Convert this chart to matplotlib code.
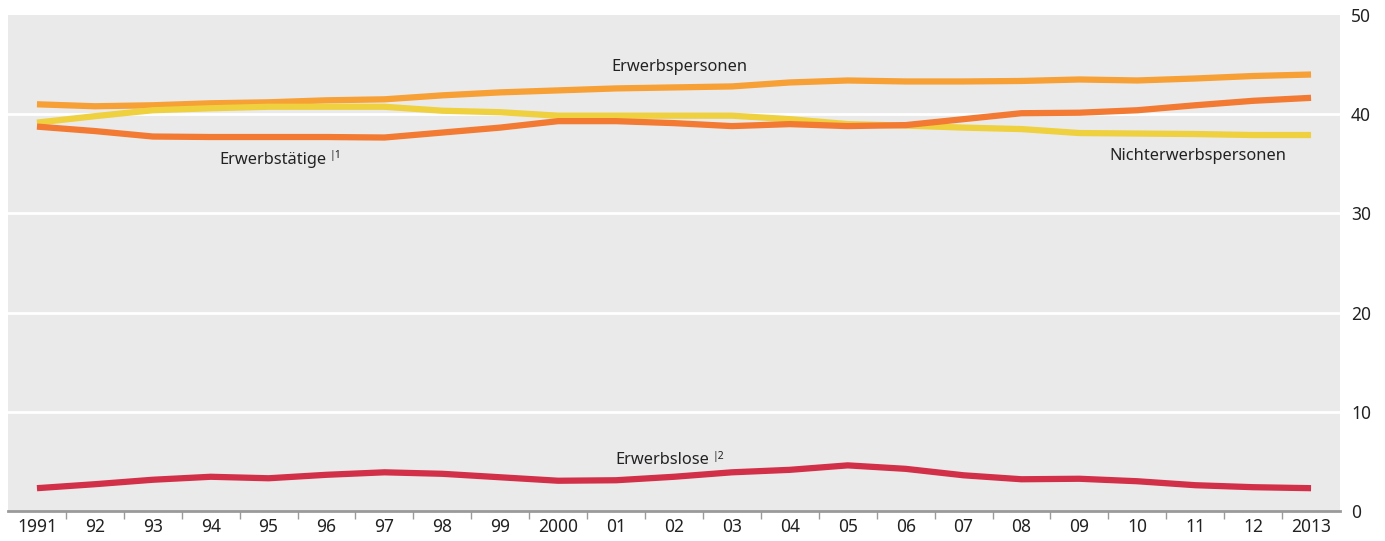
import matplotlib.pyplot as plt
import numpy as np

# Werte in Millionen
years = list(range(1991, 2014))
year_labels = ['1991', '92', '93', '94', '95', '96', '97', '98', '99', '2000',
               '01', '02', '03', '04', '05', '06', '07', '08', '09', '10',
               '11', '12', '2013']

erwerbspersonen = [41.0, 40.8, 40.9, 41.1, 41.2, 41.4, 41.5, 41.9, 42.2, 42.4,
                   42.6, 42.7, 42.8, 43.2, 43.4, 43.3, 43.3, 43.35, 43.5, 43.4,
                   43.6, 43.85, 44.0]
erwerbstaetige = [38.75, 38.3, 37.75, 37.7, 37.7, 37.7, 37.65, 38.15, 38.65, 39.3,
                  39.3, 39.1, 38.8, 39.0, 38.8, 38.9, 39.5, 40.1, 40.15, 40.4,
                  40.9, 41.35, 41.65]
nichterwerbspersonen = [39.15, 39.8, 40.4, 40.6, 40.75, 40.75, 40.75, 40.35, 40.2, 39.85,
                        39.85, 39.85, 39.85, 39.5, 39.0, 38.85, 38.65, 38.5, 38.1, 38.05,
                        38.0, 37.9, 37.9]
erwerbslose = [2.3, 2.7, 3.15, 3.45, 3.3, 3.65, 3.9, 3.75, 3.4, 3.05,
               3.1, 3.45, 3.9, 4.15, 4.6, 4.25, 3.6, 3.2, 3.25, 3.0,
               2.6, 2.4, 2.3]

plt.rcParams['font.family'] = ['Noto Sans', 'DejaVu Sans']

fig = plt.figure(figsize=(13.85, 5.41), dpi=100)
ax = fig.add_axes([8 / 1385, 30 / 541, 1332 / 1385, 496 / 541])
ax.set_facecolor('#eaeaea')

x = np.array(years)
ax.plot(x, erwerbspersonen, color='#f7a035', lw=4.5, solid_capstyle='butt', zorder=3)
ax.plot(x, nichterwerbspersonen, color='#efd03e', lw=4.5, solid_capstyle='butt', zorder=3)
ax.plot(x, erwerbstaetige, color='#f27a33', lw=4.5, solid_capstyle='butt', zorder=3)
ax.plot(x, erwerbslose, color='#d23048', lw=4.5, solid_capstyle='butt', zorder=3)

ax.set_xlim(1990.5, 2013.5)
ax.set_ylim(0, 50)

# y-Achse rechts, weisse Gitterlinien
ax.yaxis.tick_right()
ax.set_yticks([0, 10, 20, 30, 40, 50])
ax.tick_params(axis='y', length=0, pad=8, labelsize=12.5, labelcolor='#222222')
for v in [10, 20, 30, 40]:
    ax.axhline(v, color='white', lw=2, zorder=2)

# x-Achse: Beschriftung mittig, Striche dazwischen
ax.set_xticks(years)
ax.set_xticklabels(year_labels)
ax.set_xticks(np.arange(1991.5, 2013, 1), minor=True)
ax.tick_params(axis='x', which='major', length=0, pad=5, labelsize=12.5, labelcolor='#222222')
ax.tick_params(axis='x', which='minor', length=6, width=1, color='#9a9a9a', direction='out')

for s in ['top', 'left', 'right']:
    ax.spines[s].set_visible(False)
ax.spines['bottom'].set_color('#9a9a9a')
ax.spines['bottom'].set_linewidth(2)

# Beschriftungen der Linien
ax.text(2002.1, 44.8, 'Erwerbspersonen', fontsize=11.8, ha='center', va='center', color='#222222')
t1 = ax.text(1994.15, 35.4, 'Erwerbstätige', fontsize=11.8, ha='left', va='center', color='#222222')
ax.annotate('|1', xy=(1, 0.75), xycoords=t1, xytext=(2, 0), textcoords='offset points',
            fontsize=7.5, ha='left', va='center', color='#222222')
ax.text(2011.05, 35.8, 'Nichterwerbspersonen', fontsize=11.8, ha='center', va='center', color='#222222')
t2 = ax.text(2001.8, 5.1, 'Erwerbslose', fontsize=11.8, ha='center', va='center', color='#222222')
ax.annotate('|2', xy=(1, 0.75), xycoords=t2, xytext=(2, 0), textcoords='offset points',
            fontsize=7.5, ha='left', va='center', color='#222222')

fig.savefig('out.png', dpi=100)
